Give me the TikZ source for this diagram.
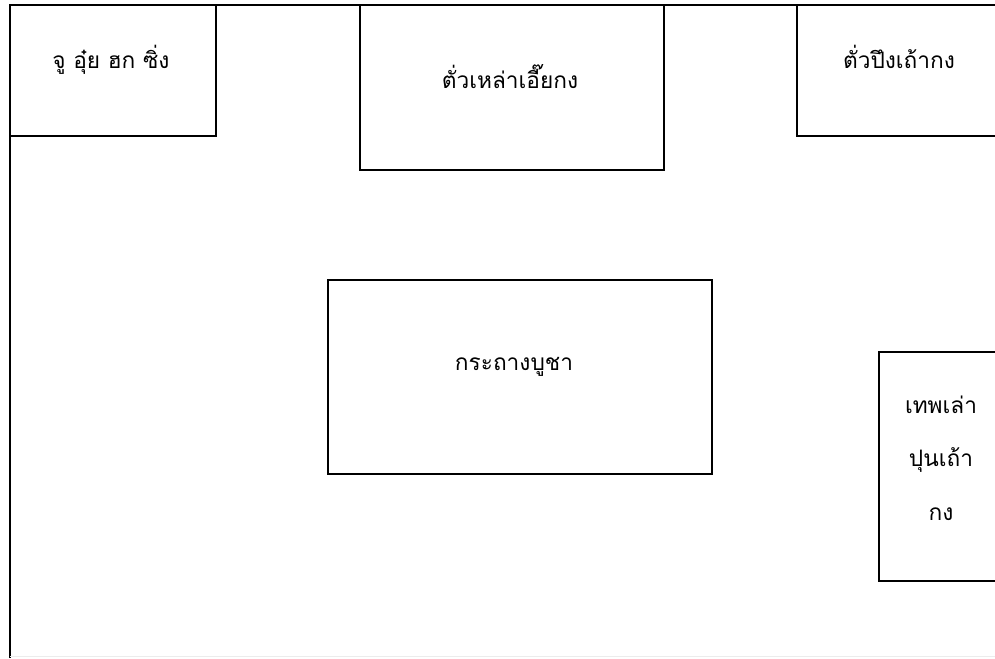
\documentclass[tikz,border=0pt]{standalone}
\usepackage{fontspec}
\newfontfamily\thaifont[Script=Thai]{Loma}

\begin{document}
\begin{tikzpicture}[x=0.75pt,y=-0.75pt,
    wall/.style={line width=1.4pt},
    box/.style={line width=1.4pt},
    roomtext/.style={font=\thaifont\fontsize{17}{40}\selectfont,align=center,inner sep=0pt}]
\clip (0,0) rectangle (995,658);
\fill[white] (0,0) rectangle (995,658);
% walls
\draw[wall] (10,658) -- (10,5) -- (1000,5);
\draw[gray!15] (10,656) -- (995,656);
% boxes
\draw[box] (10,5) rectangle (216,136);
\draw[box] (360,5) rectangle (664,170);
\draw[box] (797,5) rectangle (1005,136);
\draw[box] (328,280) rectangle (712,474);
\draw[box] (879,352) rectangle (1005,581);
% names
\node[roomtext] (jou) at (111,60) {จู อุ๋ย ฮก ซิ่ง};
\node[roomtext] (laoya) at (510,77) {ตั่วเหล่าเอี๊ยกง};
\node[roomtext] (pung) at (899,57) {ตั่วปึงเถ้ากง};
\node[roomtext] (bucha) at (514,367) {กระถางบูชา};
\node[roomtext] (theph) at (941,458) {เทพเล่า\\ปุนเถ้า\\กง};
\end{tikzpicture}
\end{document}
